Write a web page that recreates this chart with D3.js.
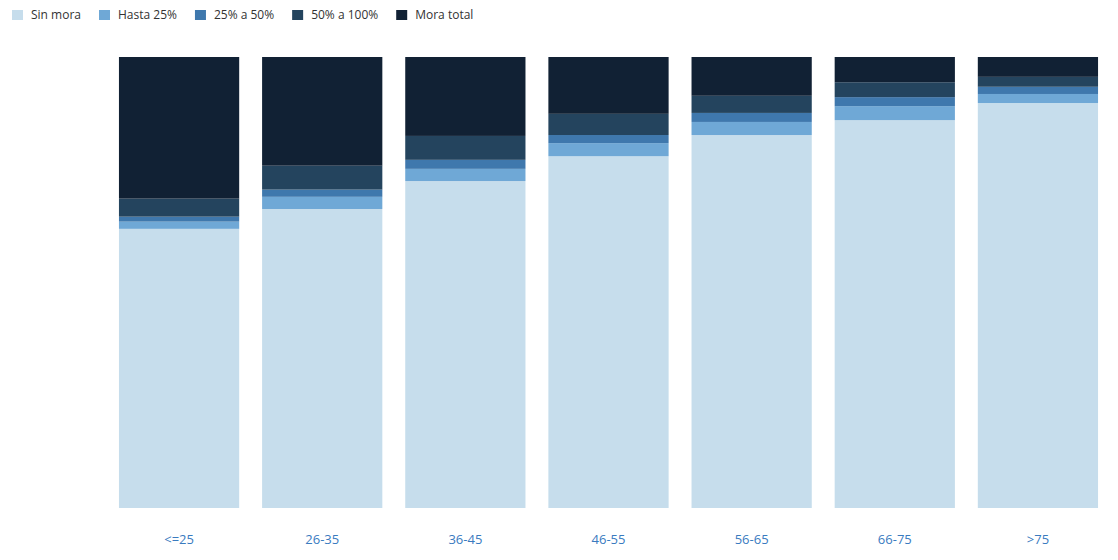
<!DOCTYPE html>
<html><head><meta charset="utf-8">
<script src="https://cdn.jsdelivr.net/npm/d3@7"></script>
<style>body{margin:0;background:#fff;font-family:"Segoe UI","Open Sans",sans-serif}</style>
</head><body><div id="chart"></div>
<script>
const categories = ["<=25", "26-35", "36-45", "46-55", "56-65", "66-75", ">75"];
const seriesNames = ["Sin mora", "Hasta 25%", "25% a 50%", "50% a 100%", "Mora total"];
const sinMora = [61.9, 66.3, 72.5, 78.0, 82.7, 86.0, 89.8];
const hasta25 = [1.6, 2.7, 2.7, 2.9, 2.9, 3.1, 2.0];
const p25a50 = [1.1, 1.6, 2.0, 1.8, 2.0, 2.0, 1.6];
const p50a100 = [4.0, 5.3, 5.3, 4.7, 3.8, 3.3, 2.2];
const moraTotal = [31.4, 24.1, 17.5, 12.6, 8.6, 5.6, 4.4];
const colors = ["#c6ddec", "#6fa8d6", "#3f78ad", "#24445e", "#112134"];

const width = 1118, height = 560;
const keys = seriesNames;
const vals = [sinMora, hasta25, p25a50, p50a100, moraTotal];
const data = categories.map((c, i) => {
  const o = { cat: c };
  keys.forEach((k, j) => (o[k] = vals[j][i]));
  return o;
});

const svg = d3.select("#chart").append("svg").attr("width", width).attr("height", height);

const x = d3.scaleBand().domain(categories).range([107.5, 1109.5]).paddingInner(0.16).paddingOuter(0.08);
const y = d3.scaleLinear().domain([0, 100]).range([508, 57]);
const stack = d3.stack().keys(keys).offset(d3.stackOffsetExpand);
const series = stack(data);
y.domain([0, 1]);

svg.append("g").selectAll("g").data(series).join("g")
  .attr("fill", (d, i) => colors[i])
  .selectAll("rect").data(d => d).join("rect")
  .attr("x", d => x(d.data.cat))
  .attr("width", x.bandwidth())
  .attr("y", d => y(d[1]))
  .attr("height", d => y(d[0]) - y(d[1]));

const xAxis = svg.append("g").attr("transform", "translate(0,508)")
  .call(d3.axisBottom(x).tickSize(0).tickPadding(27));
xAxis.select(".domain").remove();
xAxis.selectAll("text").attr("fill", "#3a7bbf").attr("font-size", 13).attr("font-family", "'Segoe UI','Open Sans',sans-serif");

// legend
const legend = svg.append("g").attr("transform", "translate(12,15)");
let lx = 0;
keys.forEach((k, i) => {
  const g = legend.append("g").attr("transform", `translate(${lx},0)`);
  g.append("rect").attr("y", -5).attr("width", 11).attr("height", 10).attr("fill", colors[i]);
  const t = g.append("text").attr("x", 19).attr("y", 4).attr("font-size", 12).attr("fill", "#333").text(k);
  lx += 19 + t.node().getComputedTextLength() + 18;
});
</script></body></html>
